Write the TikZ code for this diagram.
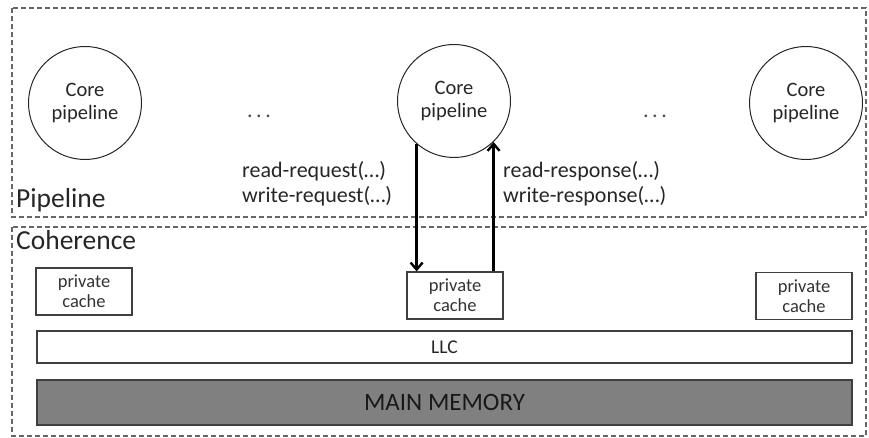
\documentclass[tikz,border=0pt]{standalone}
\usepackage{fontspec}
\setmainfont{Carlito}
\usetikzlibrary{arrows.meta}
\begin{document}
\begin{tikzpicture}[x=1pt,y=-1pt,
  region/.style={draw=black!60, line width=1.5pt, dash pattern=on 5pt off 3pt},
  core/.style={draw=black!85, line width=1pt, circle, minimum size=113pt, inner sep=0pt, align=center, font=\fontsize{20.5}{23}\selectfont, text=black!85},
  cachebox/.style={draw=black!75, line width=1.2pt, minimum width=96pt, minimum height=47pt, inner sep=0pt, align=center, font=\fontsize{18.5}{20}\selectfont, text=black!80},
  barbox/.style={draw=black!75, line width=1.2pt, minimum width=815pt, inner sep=0pt},
  lbl/.style={align=left, inner sep=0pt, font=\fontsize{22}{25}\selectfont, text=black!85},
  title/.style={inner sep=0pt, anchor=base west, font=\fontsize{27.5}{30}\selectfont, text=black!85},
  dots/.style={inner sep=0pt, font=\fontsize{22}{24}\selectfont, text=black!70},
  arr/.style={line width=2.6pt, -{Straight Barb[length=7pt,width=12pt,line width=2.4pt]}}
]
\useasboundingbox (0,0) rectangle (869,438);
% regions
\draw[region] (12,8) rectangle (866,217);
\draw[region] (12,227) rectangle (866,436);
\node[title] (tpipe) at (16,208) {Pipeline};
\node[title] (tcoh) at (16,250) {Coherence};
% cores
\node[core] (c1) at (85,103) {Core\\pipeline};
\node[core] (c2) at (454,101) {Core\\pipeline};
\node[core] (c3) at (806,103) {Core\\pipeline};
\node[dots] (d1) at (259,116) {.\,.\,.};
\node[dots] (d2) at (655,116) {.\,.\,.};
% caches
\node[cachebox] (pc1) at (84,291.5) {private\\cache};
\node[cachebox] (pc2) at (455,295.5) {private\\cache};
\node[cachebox] (pc3) at (804,296) {private\\cache};
\node[barbox, minimum height=32pt, font=\fontsize{19.5}{21}\selectfont, text=black!85] (llc) at (444.5,347) {LLC};
\node[barbox, minimum height=45pt, fill=black!50, font=\fontsize{25}{27}\selectfont, text=black!90] (mem) at (444.5,402.5) {MAIN MEMORY};
% labels
\node[lbl, anchor=west] (lreq) at (242,184) {read-request(\dots)\\write-request(\dots)};
\node[lbl, anchor=west] (lresp) at (503,184) {read-response(\dots)\\write-response(\dots)};
% arrows
\draw[arr] (c2.229) -- (c2.229 |- pc2.north);
\draw[arr] (c2.314 |- pc2.north) -- (c2.314);
\end{tikzpicture}
\end{document}
